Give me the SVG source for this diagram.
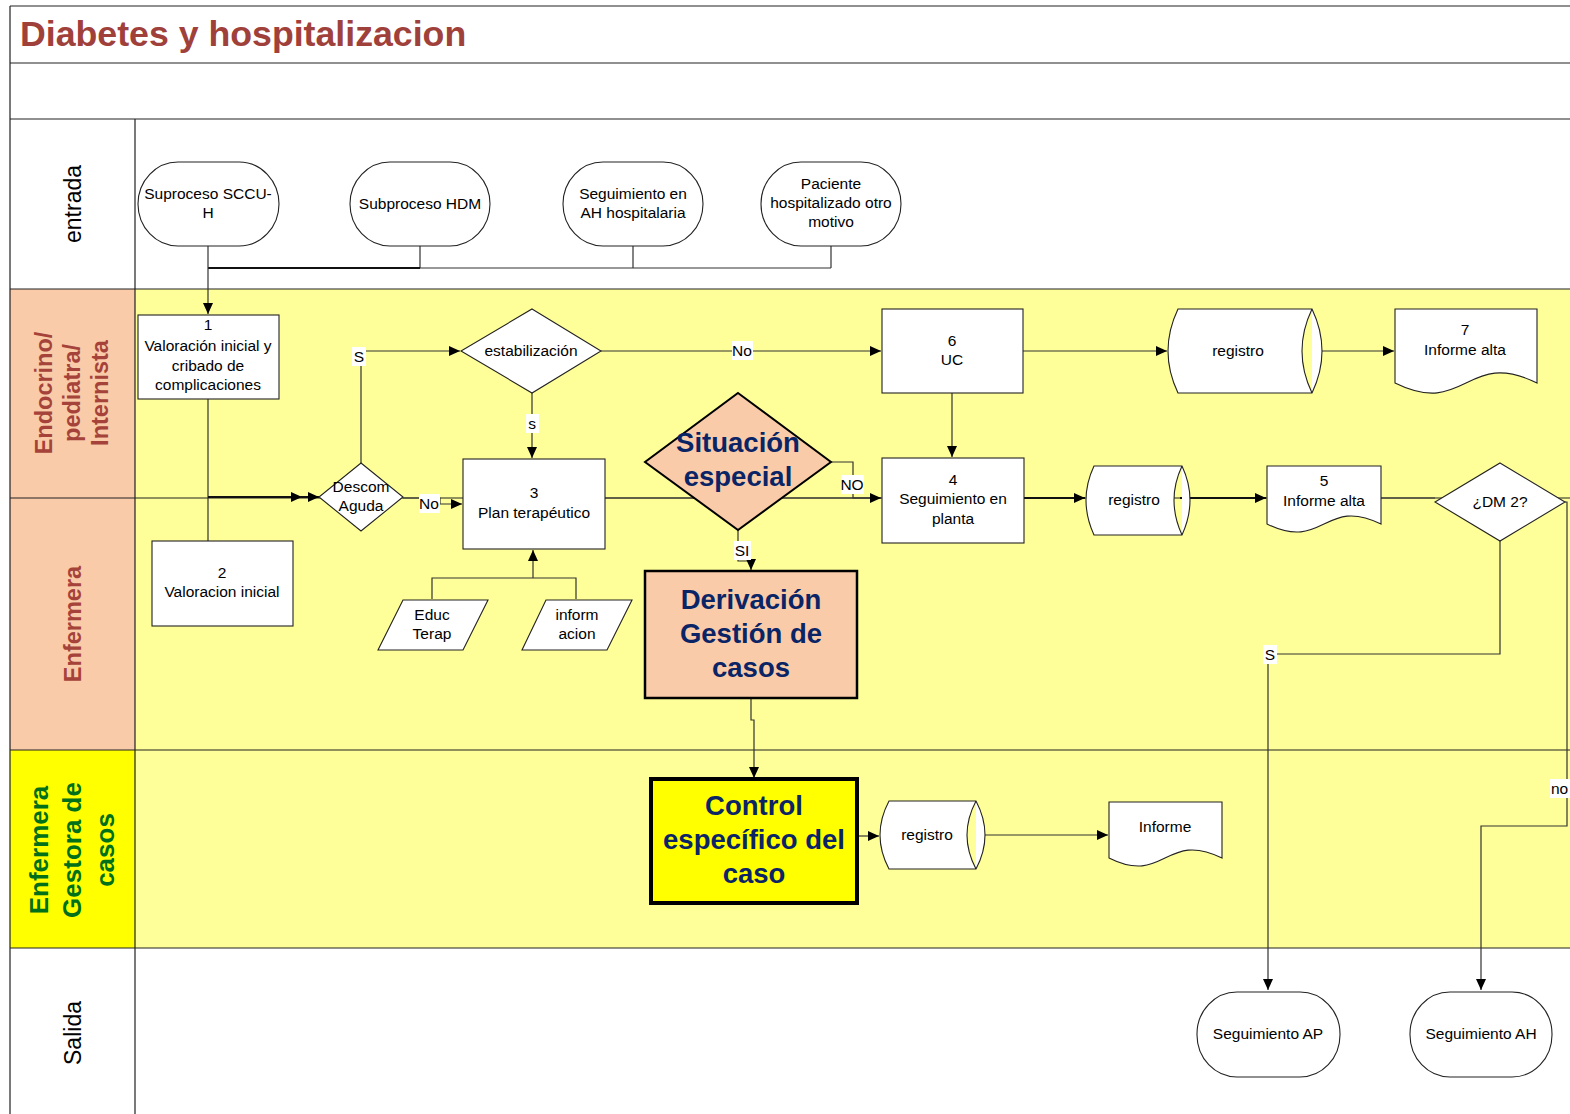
<svg xmlns="http://www.w3.org/2000/svg" width="1570" height="1114" viewBox="0 0 1570 1114">
  <style>
    .frame { fill: none; stroke: #222; stroke-width: 1.2; }
    .hdr-peach { fill: #F9CBA9; }
    .hdr-yellow { fill: #FFFF00; }
    .body-yellow { fill: #FFFF99; }
    .box { fill: #fff; stroke: #222; stroke-width: 1.1; }
    .t { font-family: "Liberation Sans", Arial, sans-serif; font-size: 15.5px; fill: #000; text-anchor: middle; }
    .lbl { font-family: "Liberation Sans", Arial, sans-serif; font-size: 15.5px; fill: #000; text-anchor: middle; }
    .lblbg { fill: #fff; }
    .big { font-family: "Liberation Sans", Arial, sans-serif; font-size: 27.5px; font-weight: bold; fill: #0A2466; text-anchor: middle; }
    .lane { font-family: "Liberation Sans", Arial, sans-serif; font-size: 23px; fill: #000; text-anchor: middle; }
    .lane-b { font-family: "Liberation Sans", Arial, sans-serif; font-size: 23.5px; font-weight: bold; fill: #A5433A; text-anchor: middle; }
    .lane-g { font-family: "Liberation Sans", Arial, sans-serif; font-size: 26px; font-weight: bold; fill: #00701A; text-anchor: middle; }
    .c { fill: none; stroke: #333; stroke-width: 1.2; }
    .c2 { fill: none; stroke: #111; stroke-width: 2; }
  </style>
  <defs>
    <marker id="arr" markerUnits="userSpaceOnUse" markerWidth="11" markerHeight="10" refX="11" refY="5" orient="auto">
      <path d="M0,0 L11,5 L0,10 Z" fill="#000"/>
    </marker>
  </defs>

  <!-- swimlane backgrounds -->
  <g id="lanes">
    <rect x="0" y="0" width="1570" height="1114" fill="#fff"/>
    <rect class="hdr-peach" x="10" y="289" width="125" height="461"/>
    <rect class="body-yellow" x="135" y="289" width="1435" height="461"/>
    <rect class="hdr-yellow" x="10" y="750" width="125" height="198"/>
    <rect class="body-yellow" x="135" y="750" width="1435" height="198"/>
    <path class="frame" d="M10,6 H1570 M10,63 H1570 M10,119 H1570 M10,289 H1570 M10,498 H1570 M10,750 H1570 M10,948 H1570 M10,6 V1114 M135,119 V1114"/>
    <text x="20" y="46" font-family="'Liberation Sans', Arial, sans-serif" font-size="35.7" font-weight="bold" fill="#A0403A">Diabetes y hospitalizacion</text>
    <text class="lane" transform="translate(81,204) rotate(-90)">entrada</text>
    <text class="lane-b" transform="translate(52,393) rotate(-90)"><tspan x="0" y="0">Endocrino/</tspan><tspan x="0" dy="28">pediatra/</tspan><tspan x="0" dy="28">Internista</tspan></text>
    <text class="lane-b" transform="translate(81,624) rotate(-90)">Enfermera</text>
    <text class="lane-g" transform="translate(48,850) rotate(-90)"><tspan x="0" y="0">Enfermera</tspan><tspan x="0" dy="33">Gestora de</tspan><tspan x="0" dy="33">casos</tspan></text>
    <text class="lane" transform="translate(81,1033) rotate(-90)">Salida</text>
  </g>

  <!-- connectors -->
  <g id="connectors">
    <path class="c" d="M420,246 V268 M633,246 V268 M831,246 V268 M208,268 H831"/>
    <path class="c2" d="M208,268 H420"/>
    <path class="c" d="M208,246 V314" marker-end="url(#arr)"/>
    <path class="c" d="M208,399 V541"/>
    <path class="c2" d="M208,497 H302" marker-end="url(#arr)"/>
    <path class="c2" d="M300,497 H319" marker-end="url(#arr)"/>
    <path class="c" d="M361,463 V351 H460" marker-end="url(#arr)"/>
    <path class="c" d="M403,498 H440 V504 H462" marker-end="url(#arr)"/>
    <path class="c" d="M532,393 V458" marker-end="url(#arr)"/>
    <path class="c" d="M601,351 H881" marker-end="url(#arr)"/>
    <path class="c" d="M605,498 H881"/>
    <path class="c" d="M831,462 H853 V498 H881" marker-end="url(#arr)"/>
    <path class="c" d="M738,530 V561 H751 V570" marker-end="url(#arr)"/>
    <path class="c" d="M751,698 V720 H754 V778" marker-end="url(#arr)"/>
    <path class="c" d="M952,393 V457" marker-end="url(#arr)"/>
    <path class="c" d="M1023,351 H1167" marker-end="url(#arr)"/>
    <path class="c" d="M1322,351 H1394" marker-end="url(#arr)"/>
    <path class="c2" d="M1024,498 H1085" marker-end="url(#arr)"/>
    <path class="c2" d="M1180,498 H1266" marker-end="url(#arr)"/>
    <path class="c" d="M1381,498 H1435"/>
    <path class="c" d="M1500,541 V654 H1268 V990" marker-end="url(#arr)"/>
    <path class="c" d="M1565,502 H1567 V826 H1481 V990" marker-end="url(#arr)"/>
    <path class="c" d="M533,578 V550" marker-end="url(#arr)"/>
    <path class="c" d="M432,599 V578 H576 V599"/>
    <path class="c" d="M857,836 H879" marker-end="url(#arr)"/>
    <path class="c" d="M985,835 H1108" marker-end="url(#arr)"/>
    <!-- branch labels -->
    <rect class="lblbg" x="352" y="347" width="14" height="19"/>
    <text class="lbl" x="359" y="362">S</text>
    <rect class="lblbg" x="526" y="414" width="13" height="19"/>
    <text class="lbl" x="532" y="429">s</text>
    <rect class="lblbg" x="419" y="494" width="21" height="19"/>
    <text class="lbl" x="429" y="509">No</text>
    <rect class="lblbg" x="732" y="341" width="21" height="19"/>
    <text class="lbl" x="742" y="356">No</text>
    <rect class="lblbg" x="841" y="475" width="23" height="19"/>
    <text class="lbl" x="852" y="490">NO</text>
    <rect class="lblbg" x="734" y="541" width="17" height="19"/>
    <text class="lbl" x="742" y="556">SI</text>
    <rect class="lblbg" x="1263" y="645" width="14" height="19"/>
    <text class="lbl" x="1270" y="660">S</text>
    <rect class="lblbg" x="1550" y="779" width="20" height="19"/>
    <text class="lbl" x="1551" y="794" style="text-anchor:start">no</text>
  </g>

  <!-- entrada -->
  <g id="n-sccu">
    <rect class="box" x="138" y="162" width="141" height="84" rx="40" ry="42"/>
    <text class="t" x="208" y="199">Suproceso SCCU-</text>
    <text class="t" x="208" y="218">H</text>
  </g>
  <g id="n-hdm">
    <rect class="box" x="350" y="162" width="140" height="84" rx="40" ry="42"/>
    <text class="t" x="420" y="209">Subproceso HDM</text>
  </g>
  <g id="n-seg-ah-hosp">
    <rect class="box" x="563" y="162" width="140" height="84" rx="40" ry="42"/>
    <text class="t" x="633" y="199">Seguimiento en</text>
    <text class="t" x="633" y="218">AH  hospitalaria</text>
  </g>
  <g id="n-otro-motivo">
    <rect class="box" x="761" y="162" width="140" height="84" rx="40" ry="42"/>
    <text class="t" x="831" y="189">Paciente</text>
    <text class="t" x="831" y="208">hospitalizado otro</text>
    <text class="t" x="831" y="227">motivo</text>
  </g>

  <!-- endocrino / pediatra / internista -->
  <g id="n1">
    <rect class="box" x="138" y="315" width="141" height="84"/>
    <text class="t" x="208" y="330">1</text>
    <text class="t" x="208" y="351">Valoración inicial y</text>
    <text class="t" x="208" y="371">cribado de</text>
    <text class="t" x="208" y="390">complicaciones</text>
  </g>
  <g id="n-descom">
    <path class="box" d="M361,463 L403,497 L361,531 L319,497 Z"/>
    <text class="t" x="361" y="492">Descom</text>
    <text class="t" x="361" y="511">Aguda</text>
  </g>
  <g id="n-estab">
    <path class="box" d="M532,309 L601,351 L532,393 L461,351 Z"/>
    <text class="t" x="531" y="356">estabilización</text>
  </g>
  <g id="n3">
    <rect class="box" x="463" y="459" width="142" height="90"/>
    <text class="t" x="534" y="498">3</text>
    <text class="t" x="534" y="518">Plan terapéutico</text>
  </g>
  <g id="n-situacion">
    <path d="M738,393 L831,462 L738,530 L645,462 Z" fill="#F9CBA9" stroke="#000" stroke-width="2"/>
    <text class="big" x="738" y="452">Situación</text>
    <text class="big" x="738" y="486">especial</text>
  </g>
  <g id="n6">
    <rect class="box" x="882" y="309" width="141" height="84"/>
    <text class="t" x="952" y="346">6</text>
    <text class="t" x="952" y="365">UC</text>
  </g>
  <g id="n-registro-uc">
    <path class="box" d="M1178,309 H1312 Q1332,351 1312,393 H1178 Q1158,351 1178,309 Z M1312,309 Q1292,351 1312,393"/>
    <text class="t" x="1238" y="356">registro</text>
  </g>
  <g id="n7">
    <path class="box" d="M1395,309 H1537 V383 C1466,348 1466,418 1395,383 Z"/>
    <text class="t" x="1465" y="335">7</text>
    <text class="t" x="1465" y="355">Informe alta</text>
  </g>
  <g id="n4">
    <rect class="box" x="882" y="458" width="142" height="85"/>
    <text class="t" x="953" y="485">4</text>
    <text class="t" x="953" y="504">Seguimiento en</text>
    <text class="t" x="953" y="524">planta</text>
  </g>
  <g id="n-registro-planta">
    <path class="box" d="M1094,466 H1182 Q1198,500 1182,535 H1094 Q1078,500 1094,466 Z M1182,466 Q1166,500 1182,535"/>
    <text class="t" x="1134" y="505">registro</text>
  </g>
  <g id="n5">
    <path class="box" d="M1267,466 H1381 V524 C1324,496 1324,552 1267,524 Z"/>
    <text class="t" x="1324" y="486">5</text>
    <text class="t" x="1324" y="506">Informe alta</text>
  </g>
  <g id="n-dm2">
    <path class="box" d="M1500,463 L1565,502 L1500,541 L1435,502 Z"/>
    <text class="t" x="1500" y="507">¿DM 2?</text>
  </g>

  <!-- enfermera -->
  <g id="n2">
    <rect class="box" x="152" y="541" width="141" height="85"/>
    <text class="t" x="222" y="578">2</text>
    <text class="t" x="222" y="597">Valoracion inicial</text>
  </g>
  <g id="n-educ">
    <path class="box" d="M403,600 H488 L463,650 H378 Z"/>
    <text class="t" x="432" y="620">Educ</text>
    <text class="t" x="432" y="639">Terap</text>
  </g>
  <g id="n-inform">
    <path class="box" d="M546,600 H632 L607,650 H522 Z"/>
    <text class="t" x="577" y="620">inform</text>
    <text class="t" x="577" y="639">acion</text>
  </g>
  <g id="n-derivacion">
    <rect x="645" y="571" width="212" height="127" fill="#F9CBA9" stroke="#000" stroke-width="2.5"/>
    <text class="big" x="751" y="609">Derivación</text>
    <text class="big" x="751" y="643">Gestión de</text>
    <text class="big" x="751" y="677">casos</text>
  </g>

  <!-- enfermera gestora de casos -->
  <g id="n-control">
    <rect x="651" y="779" width="206" height="124" fill="#FFFF00" stroke="#000" stroke-width="4"/>
    <text class="big" x="754" y="815">Control</text>
    <text class="big" x="754" y="849">específico del</text>
    <text class="big" x="754" y="883">caso</text>
  </g>
  <g id="n-registro-caso">
    <path class="box" d="M889,801 H976 Q994,835 976,869 H889 Q871,835 889,801 Z M976,801 Q958,835 976,869"/>
    <text class="t" x="927" y="840">registro</text>
  </g>
  <g id="n-informe">
    <path class="box" d="M1109,802 H1222 V858 C1165,830 1165,886 1109,858 Z"/>
    <text class="t" x="1165" y="832">Informe</text>
  </g>

  <!-- salida -->
  <g id="n-seg-ap">
    <rect class="box" x="1197" y="992" width="143" height="85" rx="40" ry="42"/>
    <text class="t" x="1268" y="1039">Seguimiento AP</text>
  </g>
  <g id="n-seg-ah">
    <rect class="box" x="1410" y="992" width="142" height="85" rx="40" ry="42"/>
    <text class="t" x="1481" y="1039">Seguimiento AH</text>
  </g>
</svg>
